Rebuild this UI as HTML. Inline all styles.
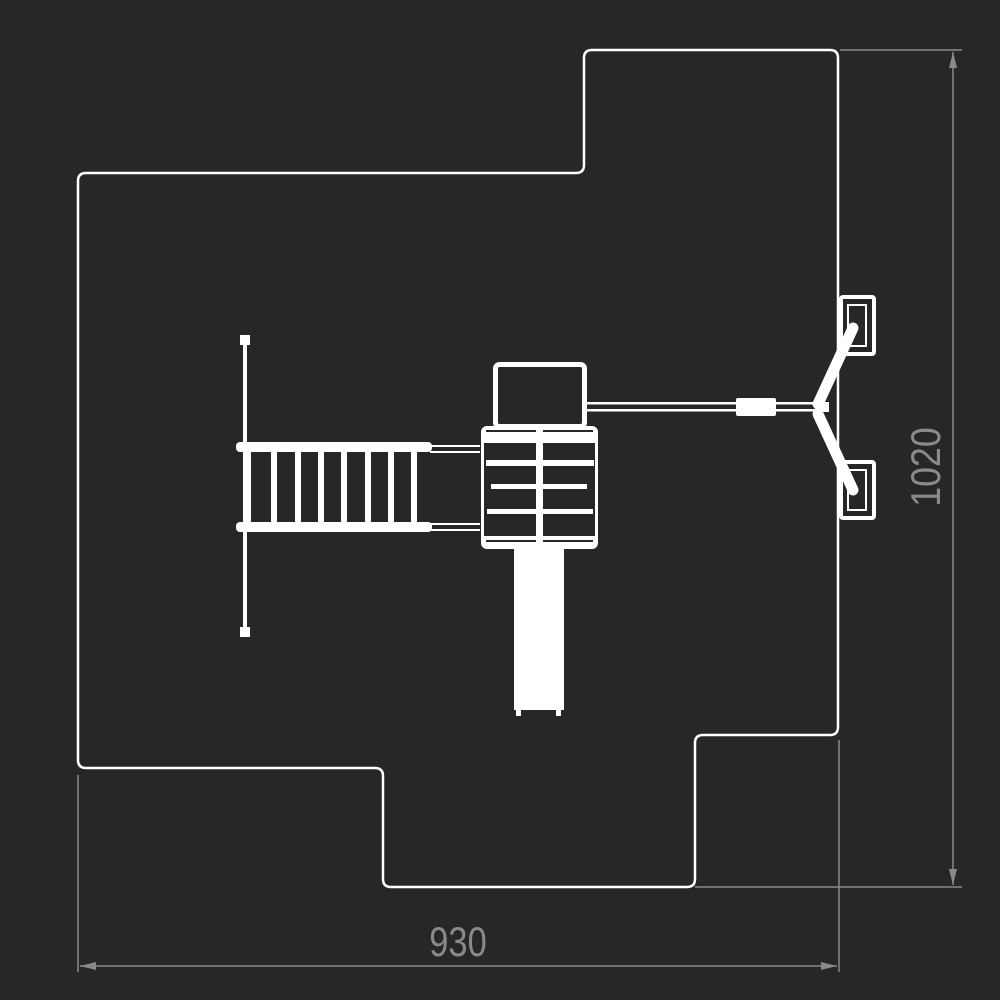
<!DOCTYPE html>
<html><head><meta charset="utf-8"><style>
html,body{margin:0;padding:0;background:#272727;}
svg{display:block}
</style></head><body>
<svg width="1000" height="1000" viewBox="0 0 1000 1000" xmlns="http://www.w3.org/2000/svg">
<rect width="1000" height="1000" fill="#272727"/>
<g stroke="#8a8a8a" stroke-width="1.5" fill="none">
<line x1="840" y1="50" x2="962" y2="50"/>
<line x1="695" y1="887" x2="962" y2="887"/>
<line x1="953" y1="52" x2="953" y2="885"/>
<line x1="78" y1="775" x2="78" y2="972"/>
<line x1="839" y1="740" x2="839" y2="972"/>
<line x1="80" y1="966" x2="837" y2="966"/>
</g>
<g fill="#8a8a8a">
<polygon points="953,52 949,68 957,68"/>
<polygon points="953,885 949,869 957,869"/>
<polygon points="80,966 96,962 96,970"/>
<polygon points="837,966 821,962 821,970"/>
</g>
<text x="458" y="956" font-family="Liberation Sans, sans-serif" font-size="42" fill="#8a8a8a" text-anchor="middle" transform="translate(458 0) scale(0.82 1) translate(-458 0)">930</text>
<text transform="translate(940 467) rotate(-90) scale(0.85 1)" font-family="Liberation Sans, sans-serif" font-size="42" fill="#8a8a8a" text-anchor="middle">1020</text>
<path d="M86,173 H576 Q584,173 584,165 V58 Q584,50 592,50 H830 Q838,50 838,58 V727 Q838,735 830,735 H703 Q695,735 695,743 V879 Q695,887 687,887 H391 Q383,887 383,879 V776 Q383,768 375,768 H86 Q78,768 78,760 V181 Q78,173 86,173 Z" fill="none" stroke="#fff" stroke-width="2.5"/>
<g fill="#fff" stroke="none">
<rect x="243" y="338" width="4" height="296"/>
<rect x="240" y="335" width="10" height="10"/>
<rect x="240" y="627" width="10" height="10"/>
<rect x="236" y="442" width="196" height="10" rx="4"/>
<rect x="236" y="522" width="196" height="10" rx="4"/>
<rect x="245" y="452" width="6" height="70"/>
<rect x="271" y="452" width="6" height="70"/>
<rect x="295" y="452" width="6" height="70"/>
<rect x="318" y="452" width="6" height="70"/>
<rect x="341" y="452" width="6" height="70"/>
<rect x="365" y="452" width="6" height="70"/>
<rect x="388" y="452" width="6" height="70"/>
<rect x="411" y="452" width="6" height="70"/>
<rect x="430" y="445" width="50" height="2"/>
<rect x="430" y="451" width="50" height="2"/>
<rect x="430" y="523" width="50" height="2"/>
<rect x="430" y="529" width="50" height="2"/>
<rect x="514" y="548" width="50" height="162"/>
<rect x="516" y="708" width="5" height="8"/>
<rect x="556" y="708" width="5" height="8"/>
<rect x="587" y="402" width="240" height="2.5"/>
<rect x="587" y="409" width="240" height="2.5"/>
<rect x="736" y="398" width="40" height="18" rx="2"/>
</g>
<rect x="495.5" y="364.5" width="89" height="62" fill="none" stroke="#fff" stroke-width="5" rx="4"/>
<rect x="481" y="426" width="117" height="123" rx="6" fill="#fff"/>
<rect x="484" y="443" width="52" height="93" fill="#272727"/>
<rect x="543" y="443" width="52" height="93" fill="#272727"/>
<g fill="#fff">
<rect x="486" y="460" width="108" height="6"/>
<rect x="491" y="484" width="96" height="5"/>
<rect x="487" y="509" width="106" height="5"/>
</g>
<g fill="#272727">
<rect x="486" y="430" width="50" height="2"/><rect x="543" y="430" width="50" height="2"/>
<rect x="486" y="540" width="50" height="2"/><rect x="543" y="540" width="50" height="2"/>
</g>
<g fill="none" stroke="#fff">
<rect x="841" y="297" width="33" height="57" rx="2" stroke-width="4"/>
<rect x="841" y="462" width="33" height="56" rx="2" stroke-width="4"/>
<rect x="848" y="305" width="18" height="41" stroke-width="2"/>
<rect x="848" y="470" width="18" height="40" stroke-width="2"/>
<polyline points="853,328 818,404" stroke-width="11" stroke-linecap="round"/>
<polyline points="818,414 853,490" stroke-width="11" stroke-linecap="round"/>
</g>
<rect x="815" y="402" width="14" height="10" fill="#fff"/>
</svg>
</body></html>
